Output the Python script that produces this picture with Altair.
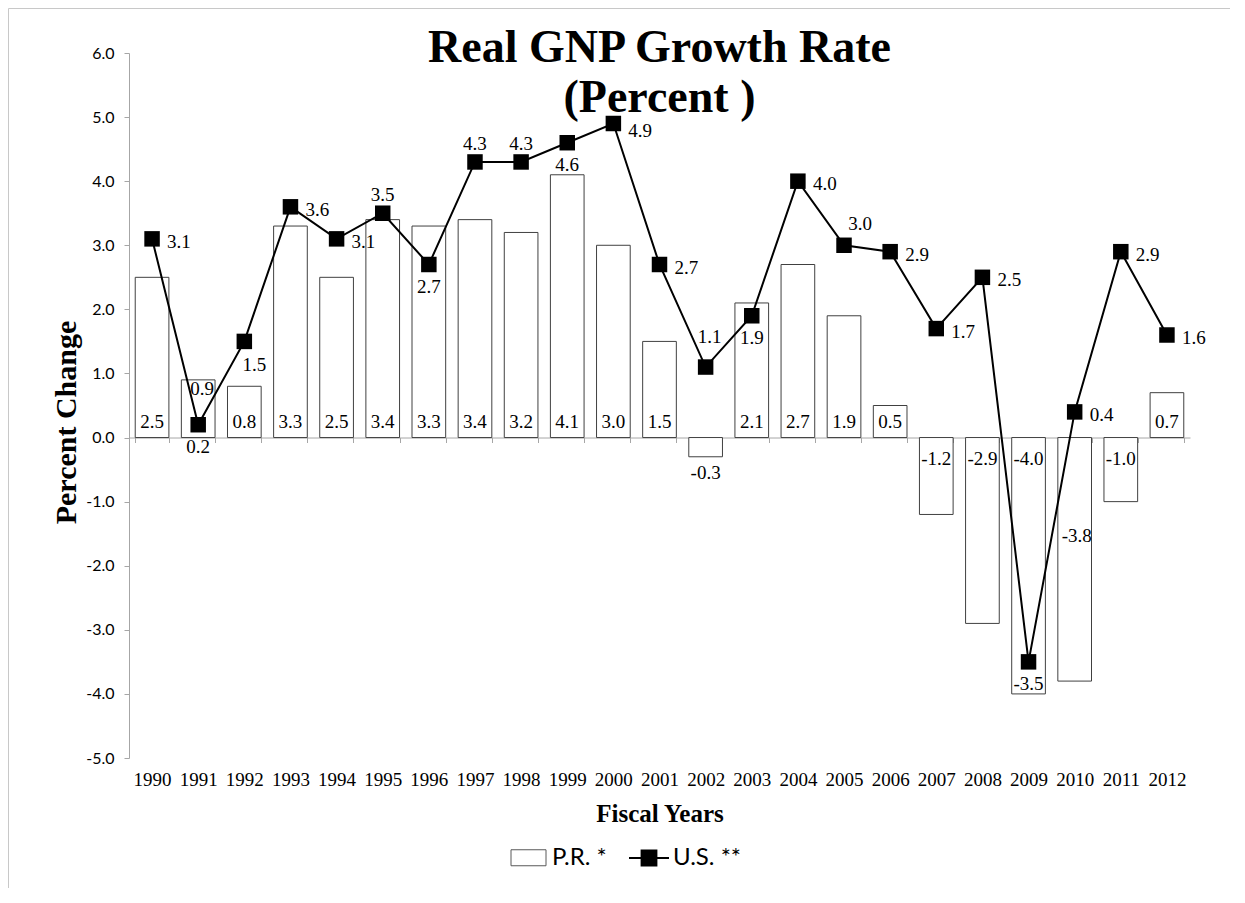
import altair as alt
import pandas as pd

years = ["1990", "1991", "1992", "1993", "1994", "1995", "1996", "1997", "1998", "1999",
         "2000", "2001", "2002", "2003", "2004", "2005", "2006", "2007", "2008", "2009",
         "2010", "2011", "2012"]
pr_values = [2.5, 0.9, 0.8, 3.3, 2.5, 3.4, 3.3, 3.4, 3.2, 4.1, 3.0, 1.5, -0.3, 2.1, 2.7,
             1.9, 0.5, -1.2, -2.9, -4.0, -3.8, -1.0, 0.7]
us_values = [3.1, 0.2, 1.5, 3.6, 3.1, 3.5, 2.7, 4.3, 4.3, 4.6, 4.9, 2.7, 1.1, 1.9, 4.0,
             3.0, 2.9, 1.7, 2.5, -3.5, 0.4, 2.9, 1.6]
# where each data label sits relative to its bar / marker
pr_label_pos = ["base", "top", "base", "base", "base", "base", "base", "base", "base", "base",
                "base", "base", "below", "base", "base", "base", "base", "neg", "neg", "neg",
                "mid", "neg", "base"]
us_label_pos = ["right", "below", "below-right", "right", "right", "above", "below", "above",
                "above", "below", "right-low", "right", "high", "below", "right", "above-right",
                "right", "right", "right", "below", "right", "right", "right"]
series_names = ["P.R. *", "U.S. **"]
y_tick_values = [-5, -4, -3, -2, -1, 0, 1, 2, 3, 4, 5, 6]


def fmt(v):
    return f"{v:.1f}"


df = pd.DataFrame({
    "year": years,
    "pr": pr_values,
    "us": us_values,
    "pr_pos": pr_label_pos,
    "us_pos": us_label_pos,
    "pr_text": [fmt(v) for v in pr_values],
    "us_text": [fmt(v) for v in us_values],
    "zero": [0.0] * len(years),
})
legend_df = pd.DataFrame({"series": series_names})

W, H = 1061, 705
SERIF = "Liberation Serif"
SANS = "Lato"
AXIS_GRAY = "#a6a6a6"

x_enc = alt.X(
    "year:N",
    scale=alt.Scale(paddingInner=0.27, paddingOuter=0.135),
    axis=alt.Axis(
        title="Fiscal Years", offset=-320.5, tickBand="extent",
        domainColor=AXIS_GRAY, tickColor=AXIS_GRAY, tickSize=5,
        labelPadding=328, labelFont=SERIF, labelFontSize=19, labelAngle=0,
        labelColor="black", labelOverlap=False,
        titleFont=SERIF, titleFontSize=25, titleFontWeight="bold",
        titleY=376, titleBaseline="middle", titleColor="black",
    ),
)


def y_enc(field):
    return alt.Y(
        f"{field}:Q",
        scale=alt.Scale(domain=[-5, 6], nice=False),
        axis=alt.Axis(
            title="Percent  Change", values=y_tick_values,
            labelExpr="replace(format(datum.value, '.1f'), '\u2212', '-')",
            domainColor=AXIS_GRAY, tickColor=AXIS_GRAY, tickSize=5, grid=False,
            labelPadding=10, labelFont=SANS, labelFontSize=16, labelColor="black",
            titleFont=SERIF, titleFontSize=30, titleFontWeight="bold",
            titleX=-63, titleY=369, titleBaseline="middle", titleColor="black",
        ),
    )


base = alt.Chart(df)

bars = base.mark_bar(fill="white", stroke="#404040", strokeWidth=1).encode(
    x=x_enc, y=y_enc("pr"), y2=alt.Y2("zero:Q")
)

label_font = dict(font=SERIF, fontSize=19, color="black")

pr_specs = [
    ("base", "zero", 0, -10, "center", "alphabetic"),
    ("top", "pr", 4, 15, "center", "alphabetic"),
    ("neg", "zero", 0, 27, "center", "alphabetic"),
    ("below", "pr", 0, 22, "center", "alphabetic"),
    ("mid", "half", 2, -17, "center", "alphabetic"),
]
pr_labels = []
for pos, field, dx, dy, align, bl in pr_specs:
    pr_labels.append(
        base.transform_calculate(half="datum.pr / 2")
        .transform_filter(alt.datum.pr_pos == pos)
        .mark_text(dx=dx, dy=dy, align=align, baseline=bl, **label_font)
        .encode(x=x_enc, y=y_enc(field), text="pr_text:N")
    )

line = base.mark_line(color="black", strokeWidth=2).encode(x=x_enc, y=y_enc("us"))
points = base.mark_point(shape="square", size=240, filled=True, color="black", opacity=1).encode(
    x=x_enc, y=y_enc("us")
)

us_specs = [
    ("right", 15, 3, "left", "middle"),
    ("right-low", 15, 7, "left", "middle"),
    ("below", 0, 28, "center", "alphabetic"),
    ("below-right", 10, 30, "center", "alphabetic"),
    ("above", 0, -12, "center", "alphabetic"),
    ("above-right", 16, -15, "center", "alphabetic"),
    ("high", 4, -24, "center", "alphabetic"),
]
us_labels = []
for pos, dx, dy, align, bl in us_specs:
    us_labels.append(
        base.transform_filter(alt.datum.us_pos == pos)
        .mark_text(dx=dx, dy=dy, align=align, baseline=bl, **label_font)
        .encode(x=x_enc, y=y_enc("us"), text="us_text:N")
    )

pr_path = "M-0.875,-0.4H0.875V0.4H-0.875Z"
us_path = "M-1,0H1M-0.37,-0.37H0.37V0.37H-0.37Z"
leg = alt.Legend(
    orient="none", legendX=379, legendY=784, direction="horizontal", title=None,
    symbolSize=1600, labelFont=SANS, labelFontSize=24, labelColor="black",
    labelOffset=3, columnPadding=18, symbolOpacity=1, padding=0,
)
legend_layer = alt.Chart(legend_df).mark_point(opacity=0, filled=True).encode(
    shape=alt.Shape("series:N", scale=alt.Scale(domain=series_names, range=[pr_path, us_path]), legend=leg),
    fill=alt.Fill("series:N", scale=alt.Scale(domain=series_names, range=["white", "black"]), legend=leg),
    stroke=alt.Stroke("series:N", scale=alt.Scale(domain=series_names, range=["#595959", "black"]), legend=leg),
    strokeWidth=alt.StrokeWidth("series:N", scale=alt.Scale(domain=series_names, range=[1, 2]), legend=leg),
)

border_data = alt.Data(values=[{"k": 1}])
border_top = alt.Chart(border_data).mark_rule(color="#c8c8c8", strokeWidth=1).encode(
    x=alt.value(-120.5), x2=alt.value(W + 40), y=alt.value(-44.5)
)
border_left = alt.Chart(border_data).mark_rule(color="#c8c8c8", strokeWidth=1).encode(
    x=alt.value(-120.5), y=alt.value(-44.5), y2=alt.value(H + 130)
)

chart = alt.layer(
    bars, *pr_labels, line, points, *us_labels, legend_layer, border_top, border_left
).properties(
    width=W, height=H,
    background="white",
    title=alt.TitleParams(
        text=["Real GNP Growth Rate", "(Percent )"], font=SERIF, fontSize=46,
        fontWeight="bold", color="black", anchor="middle", frame="group",
        offset=-114, lineHeight=50,
    ),
    autosize=alt.AutoSizeParams(type="none"),
    padding={"left": 121, "top": 45, "right": 40, "bottom": 130},
).configure_view(strokeWidth=0, stroke="transparent")

chart.save("out.html", embed_options={"renderer": "svg", "actions": False})
